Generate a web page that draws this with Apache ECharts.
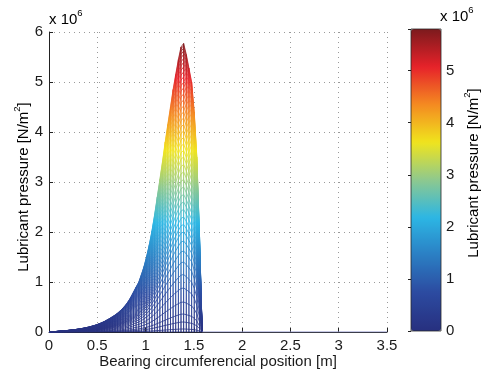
<!DOCTYPE html>
<html>
<head>
<meta charset="utf-8">
<script src="https://cdn.jsdelivr.net/npm/echarts/dist/echarts.min.js"></script>
<style>
  html, body { margin: 0; padding: 0; background: #fff; }
  #chart { width: 486px; height: 376px; }
</style>
</head>
<body>
<div id="chart"></div>
<script>
// Circumferential mesh positions along the bearing [m]
const position = [
  0.000, 0.027, 0.055, 0.082, 0.109, 0.137, 0.164, 0.191, 0.219, 0.246,
  0.273, 0.301, 0.328, 0.355, 0.383, 0.410, 0.437, 0.465, 0.492, 0.519,
  0.547, 0.574, 0.601, 0.629, 0.656, 0.684, 0.711, 0.738, 0.766, 0.793,
  0.820, 0.848, 0.875, 0.902, 0.930, 0.957, 0.984, 1.012, 1.039, 1.066,
  1.094, 1.121, 1.148, 1.176, 1.203, 1.230, 1.258, 1.285, 1.312, 1.340,
  1.367, 1.394, 1.422, 1.449, 1.477, 1.504, 1.531, 1.559, 1.586
];

// Mid-plane lubricant pressure at each position [x 10^6 N/m^2]
const midplanePressure = [
  0.000, 0.004, 0.008, 0.012, 0.016, 0.021, 0.026, 0.031, 0.037, 0.043,
  0.050, 0.058, 0.066, 0.076, 0.087, 0.099, 0.113, 0.128, 0.145, 0.165,
  0.187, 0.212, 0.241, 0.272, 0.305, 0.340, 0.380, 0.425, 0.480, 0.540,
  0.610, 0.700, 0.800, 0.900, 1.000, 1.150, 1.310, 1.520, 1.750, 2.020,
  2.350, 2.700, 3.050, 3.420, 3.800, 4.150, 4.500, 4.850, 5.150, 5.450,
  5.700, 5.770, 5.550, 5.280, 5.000, 4.400, 3.500, 1.900, 0.000
];

// Peak pressure of every axial mesh line [x 10^6 N/m^2]
const meshPeaks = [
  0.06, 0.20, 0.36, 0.60, 0.88, 1.15, 1.40, 1.62, 1.82, 2.00,
  2.15, 2.30, 2.45, 2.60, 2.75, 2.90, 3.05, 3.20, 3.35, 3.50,
  3.63, 3.76, 3.89, 4.02, 4.15, 4.28, 4.40, 4.52, 4.64, 4.76,
  4.88, 4.99, 5.10, 5.20, 5.30, 5.39, 5.47, 5.55, 5.62, 5.68,
  5.73, 5.77
];

// Axis ranges
const positionRange = [0, 3.5, 0.5];
const pressureRange = [0, 6, 1];
const colorbarRange = [0, 5.8];

// Jet-like colour scale
const jetColors = [
  '#27307f', '#2c4aa0', '#2b7ec3', '#2cb6e4', '#8ec98e',
  '#f0e41d', '#f48a21', '#e6222a', '#7c1a1d'
];

const FONT = '"Liberation Sans", Arial, Helvetica, sans-serif';
const INK = '#1a1a1a';

const peakMax = Math.max(...midplanePressure);
const lastX = position[position.length - 1];

const series = [];

// Circumferential mesh lines (one per axial station)
meshPeaks.forEach(function (peak) {
  series.push({
    type: 'line',
    xAxisIndex: 0, yAxisIndex: 0,
    symbol: 'none', silent: true, animation: false,
    lineStyle: { width: 0.8 },
    data: position.map(function (x, i) {
      return [x, midplanePressure[i] * peak / peakMax];
    })
  });
});

// Axial mesh lines, seen edge-on as vertical strokes
const verticalData = [];
position.forEach(function (x, i) {
  verticalData.push([x, 0], [x, midplanePressure[i]], [x, 0]);
});
series.push({
  type: 'line',
  xAxisIndex: 0, yAxisIndex: 0,
  symbol: 'none', silent: true, animation: false,
  lineStyle: { width: 0.8 },
  data: verticalData
});

const colouredCount = series.length;

// Unloaded part of the bearing
series.push({
  type: 'line',
  xAxisIndex: 0, yAxisIndex: 0,
  symbol: 'none', silent: true, animation: false,
  lineStyle: { width: 1, color: '#8d90c8' },
  data: [[lastX, 0], [positionRange[1], 0]]
});

const seriesIdx = [];
for (let i = 0; i < colouredCount; i++) seriesIdx.push(i);

const labelStyle = { fontFamily: FONT, fontSize: 15, color: INK };

const superText = {
  b: { fontFamily: FONT, fontSize: 15, color: INK, lineHeight: 19, verticalAlign: 'bottom' },
  s: { fontFamily: FONT, fontSize: 9.5, color: INK, lineHeight: 9, verticalAlign: 'top' }
};

const option = {
  backgroundColor: '#ffffff',
  animation: false,
  grid: [
    { left: 49, top: 32, width: 338, height: 300, containLabel: false },
    { left: 411, top: 29, width: 30, height: 302, show: true,
      borderColor: '#2a2a2a', borderWidth: 0.8, backgroundColor: 'transparent', z: 10 }
  ],
  xAxis: [
    {
      gridIndex: 0, type: 'value',
      min: positionRange[0], max: positionRange[1], interval: positionRange[2],
      axisLine: { show: true, onZero: false, lineStyle: { color: '#222', width: 1 } },
      axisTick: { show: true, inside: true, length: 4, lineStyle: { color: '#222' } },
      axisLabel: Object.assign({ margin: 6 }, labelStyle),
      splitLine: { show: true, lineStyle: { color: '#9a9a9a', width: 1, type: [1, 4] } }
    },
    { gridIndex: 1, type: 'value', show: false, min: 0, max: 1 }
  ],
  yAxis: [
    {
      gridIndex: 0, type: 'value',
      min: pressureRange[0], max: pressureRange[1], interval: pressureRange[2],
      axisLine: { show: true, onZero: false, lineStyle: { color: '#222', width: 1 } },
      axisTick: { show: true, inside: true, length: 4, lineStyle: { color: '#222' } },
      axisLabel: Object.assign({ margin: 6 }, labelStyle),
      splitLine: { show: true, lineStyle: { color: '#9a9a9a', width: 1, type: [1, 4] } }
    },
    {
      gridIndex: 1, type: 'value', position: 'right',
      min: colorbarRange[0], max: colorbarRange[1], interval: 1, z: 10,
      axisLine: { show: false },
      axisTick: { show: true, inside: true, length: 3, lineStyle: { color: '#222' } },
      axisLabel: Object.assign({
        margin: 5,
        formatter: function (v) { return Number.isInteger(v) ? String(v) : ''; }
      }, labelStyle),
      splitLine: { show: false }
    }
  ],
  visualMap: {
    type: 'continuous',
    show: true,
    min: colorbarRange[0], max: colorbarRange[1],
    dimension: 1,
    seriesIndex: seriesIdx,
    calculable: false,
    hoverLink: false,
    left: 411, top: 29,
    padding: 0,
    itemWidth: 30, itemHeight: 302,
    inRange: { color: jetColors }
  },
  graphic: [
    {
      type: 'text', left: 49, top: 8, silent: true,
      style: { text: '{b|x 10}{s|6}', rich: superText }
    },
    {
      type: 'text', left: 440, top: 5, silent: true,
      style: { text: '{b|x 10}{s|6}', rich: superText }
    },
    {
      type: 'text', x: 218, y: 362, silent: true,
      style: {
        text: 'Bearing circumferencial position [m]',
        fontFamily: FONT, fontSize: 15, fill: INK,
        align: 'center', verticalAlign: 'middle'
      }
    },
    {
      type: 'text', x: 22, y: 187, rotation: Math.PI / 2, silent: true,
      style: {
        text: '{b|Lubricant pressure [N/m}{s|2}{b|]}',
        align: 'center', verticalAlign: 'middle',
        rich: superText
      }
    },
    {
      type: 'text', x: 472, y: 173, rotation: Math.PI / 2, silent: true,
      style: {
        text: '{b|Lubricant pressure [N/m}{s|2}{b|]}',
        align: 'center', verticalAlign: 'middle',
        rich: superText
      }
    }
  ],
  series: series
};

const chart = echarts.init(document.getElementById('chart'), null, { renderer: 'canvas' });
chart.setOption(option);
</script>
</body>
</html>
